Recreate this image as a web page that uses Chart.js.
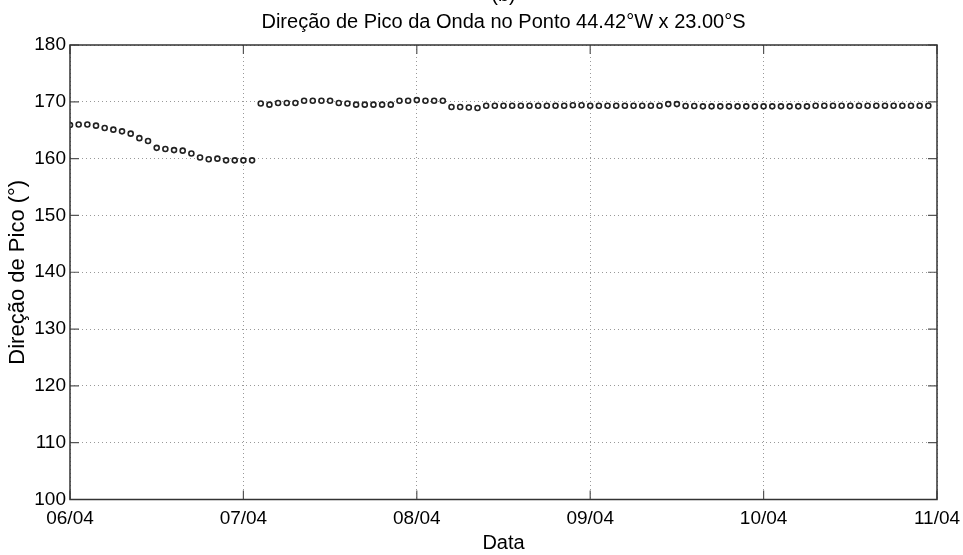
<!DOCTYPE html>
<html>
<head>
<meta charset="utf-8">
<script src="https://cdn.jsdelivr.net/npm/chart.js@4/dist/chart.umd.min.js"></script>
<style>
    html, body { margin: 0; padding: 0; background: #fff; }
    #wrap { width: 963px; height: 555px; position: relative; }
</style>
</head>
<body>
<div id="wrap"><canvas id="peakChart"></canvas></div>
<script>
// Tick labels for the day axis (x = days since 06/04 00h)
const dayLabels = ['06/04', '07/04', '08/04', '09/04', '10/04', '11/04'];
const stepDays = 0.05; // one sample every 1.2 h

const yTicks = [100, 110, 120, 130, 140, 150, 160, 170, 180];

// Peak direction (degrees)
const peakDir = [
    165.9, 166.0, 166.0, 165.8, 165.4, 165.1, 164.8, 164.4, 163.6, 163.1,
    161.9, 161.7, 161.5, 161.4, 160.9, 160.2, 159.9, 160.0, 159.7, 159.7,
    159.7, 159.7,
    169.7, 169.5, 169.8, 169.8, 169.8, 170.2, 170.2, 170.2, 170.2, 169.8,
    169.7, 169.5, 169.5, 169.5, 169.5, 169.5, 170.2, 170.2, 170.3, 170.2,
    170.2, 170.2, 169.1, 169.1, 169.0,
    168.9, 169.3, 169.3, 169.3, 169.3, 169.3, 169.3, 169.3, 169.3, 169.3,
    169.3, 169.4, 169.4, 169.3, 169.3, 169.3, 169.3, 169.3, 169.3, 169.3,
    169.3, 169.3, 169.6, 169.6, 169.25, 169.25,
    169.2, 169.2, 169.2, 169.2, 169.2, 169.2, 169.2, 169.2, 169.2, 169.2,
    169.2, 169.2, 169.2, 169.3, 169.3, 169.3, 169.3, 169.3, 169.3, 169.3,
    169.3, 169.3, 169.3, 169.3, 169.3, 169.3, 169.3
];

const FONT = '"Liberation Sans", Arial, Helvetica, sans-serif';

// box round the plot + inward ticks, and the title text
const frame = {
    id: 'frame',
    afterDraw(chart) {
        const { ctx, chartArea: a, scales } = chart;
        ctx.save();
        ctx.strokeStyle = '#555';
        ctx.lineWidth = 1.2;
        ctx.beginPath();
        dayLabels.forEach((_, i) => {
            const x = scales.x.getPixelForValue(i);
            ctx.moveTo(x, a.bottom); ctx.lineTo(x, a.bottom - 9);
            ctx.moveTo(x, a.top); ctx.lineTo(x, a.top + 9);
        });
        yTicks.forEach(v => {
            const y = scales.y.getPixelForValue(v);
            ctx.moveTo(a.left, y); ctx.lineTo(a.left + 9, y);
            ctx.moveTo(a.right, y); ctx.lineTo(a.right - 9, y);
        });
        ctx.stroke();
        ctx.strokeStyle = '#333';
        ctx.lineWidth = 1.5;
        ctx.strokeRect(a.left, a.top, a.right - a.left, a.bottom - a.top);

        const cx = (a.left + a.right) / 2;
        ctx.fillStyle = '#000';
        ctx.textAlign = 'center';
        ctx.font = '20px ' + FONT;
        ctx.textBaseline = 'alphabetic';
        ctx.fillText('(b)', cx, 1);
        ctx.textBaseline = 'middle';
        ctx.fillText('Direção de Pico da Onda no Ponto 44.42°W x 23.00°S', cx, 22);
        ctx.restore();
    }
};

new Chart(document.getElementById('peakChart'), {
    type: 'scatter',
    data: {
        datasets: [{
            data: peakDir.map((v, i) => ({ x: i * stepDays, y: v })),
            showLine: false,
            pointRadius: 2.5,
            pointBorderWidth: 1.6,
            pointBorderColor: '#222',
            pointBackgroundColor: '#fff'
        }]
    },
    options: {
        responsive: true,
        maintainAspectRatio: false,
        animation: false,
        layout: { padding: { top: 45, right: 26, left: 0, bottom: 0 } },
        plugins: {
            legend: { display: false },
            tooltip: { enabled: false },
            title: { display: false }
        },
        scales: {
            x: {
                type: 'linear',
                min: 0,
                max: dayLabels.length - 1,
                afterFit: s => { s.height = 55.5; s.paddingLeft = 0; s.paddingRight = 0; },
                ticks: {
                    stepSize: 1,
                    autoSkip: false,
                    maxRotation: 0,
                    padding: 8,
                    color: '#000',
                    font: { family: FONT, size: 19 },
                    callback: v => dayLabels[v]
                },
                grid: { color: '#999', drawTicks: false },
                border: { display: false, dash: [1, 3] },
                title: {
                    display: true,
                    text: 'Data',
                    color: '#000',
                    padding: 0,
                    font: { family: FONT, size: 20 }
                }
            },
            y: {
                min: yTicks[0],
                max: yTicks[yTicks.length - 1],
                afterFit: s => { s.width = 70; s.paddingTop = 0; s.paddingBottom = 0; },
                afterBuildTicks: s => { s.ticks = yTicks.map(v => ({ value: v })); },
                ticks: {
                    padding: 4,
                    color: '#000',
                    font: { family: FONT, size: 19 }
                },
                grid: { color: '#999', drawTicks: false },
                border: { display: false, dash: [1, 3] },
                title: {
                    display: true,
                    text: 'Direção de Pico (°)',
                    color: '#000',
                    padding: { top: 5 },
                    font: { family: FONT, size: 22 }
                }
            }
        }
    },
    plugins: [frame]
});
</script>
</body>
</html>
